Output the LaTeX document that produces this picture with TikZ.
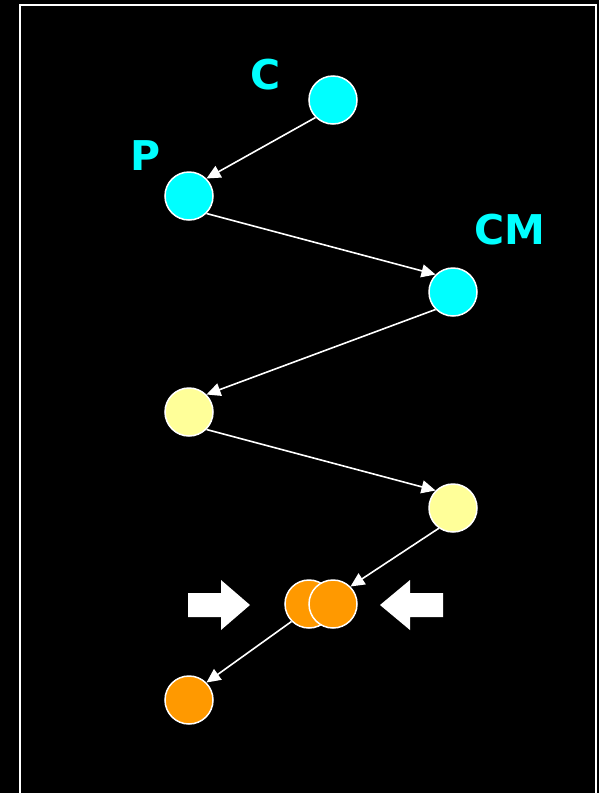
\documentclass[tikz,border=0pt]{standalone}
\usepackage{fontspec}
\newfontfamily\labfont{DejaVu Sans}
\usetikzlibrary{arrows.meta}
\definecolor{cyanc}{HTML}{00FFFF}
\definecolor{yelc}{HTML}{FFFF99}
\definecolor{orac}{HTML}{FF9900}
\begin{document}
\begin{tikzpicture}[x=1pt,y=-1pt,
  ball/.style={circle,draw=white,line width=1.5pt,minimum size=48pt,inner sep=0pt},
  conn/.style={draw=white,line width=1.6pt,-{Triangle[length=14pt,width=13pt]}},
  lab/.style={text=cyanc,font=\labfont\bfseries\fontsize{41}{41}\selectfont,inner sep=0pt},
  blockarrow/.style={fill=white,draw=none}]
\fill[black] (0,0) rectangle (599,793);
\useasboundingbox (0,0) rectangle (599,793);
\draw[white,line width=1.5pt] (20,793) -- (20,5) -- (596,5) -- (596,793);
% balls
\node[ball,fill=cyanc] (c) at (333,100) {};
\node[ball,fill=cyanc] (p) at (189,196) {};
\node[ball,fill=cyanc] (cm) at (453,292) {};
\node[ball,fill=yelc] (y1) at (189,412) {};
\node[ball,fill=yelc] (y2) at (453,508) {};
\node[ball,fill=orac] (ol) at (309,604) {};
\node[ball,fill=orac] (or) at (333,604) {};
\node[ball,fill=orac] (ob) at (189,700) {};
% labels
\node[lab] (lc) at (266,75) {C};
\node[lab] (lp) at (146,156) {P};
\node[lab] (lcm) at (510,230) {CM};
% connectors (the picture uses -45 and 135 degree border points)
\draw[conn] (c.south west) -- (p.north east);
\draw[conn] (p.south east) -- (cm.north west);
\draw[conn] (cm.south west) -- (y1.north east);
\draw[conn] (y1.south east) -- (y2.north west);
\draw[conn] (y2.-125) -- (or.north east);
\draw[conn] (ol.south west) -- (ob.north east);
% block arrows
\fill[blockarrow] (188,593) -- (221,593) -- (221,580) -- (250,605) -- (221,630) -- (221,617) -- (188,617) -- cycle;
\fill[blockarrow] (443,593) -- (410,593) -- (410,580) -- (380,605) -- (410,630) -- (410,617) -- (443,617) -- cycle;
\end{tikzpicture}
\end{document}
